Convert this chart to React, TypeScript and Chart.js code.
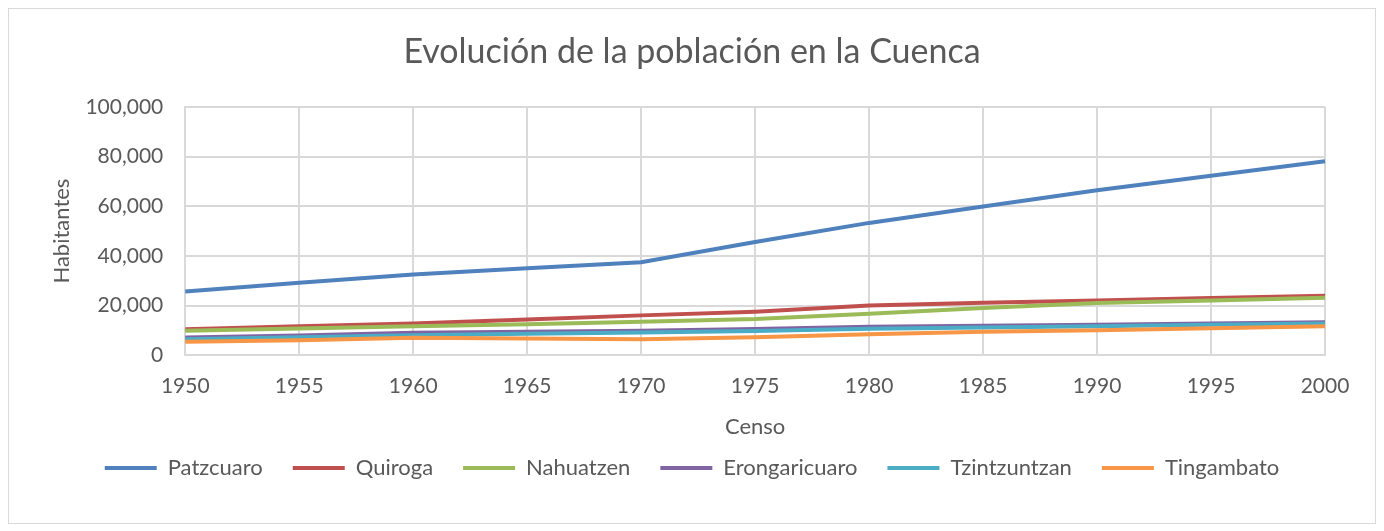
import React, { useEffect, useRef } from "react";
import { Chart, registerables } from "chart.js";

Chart.register(...registerables);

const years = ["1950", "1955", "1960", "1965", "1970", "1975", "1980", "1985", "1990", "1995", "2000"];
const patzcuaro = [25700, 29200, 32500, 35100, 37500, 45600, 53300, 59900, 66400, 72300, 78100];
const quiroga = [10500, 11700, 12800, 14400, 16100, 17600, 20100, 21200, 22100, 23100, 24000];
const nahuatzen = [9900, 10800, 11700, 12500, 13500, 14600, 16800, 19100, 21100, 22100, 23200];
const erongaricuaro = [7200, 8000, 9100, 9500, 9900, 10600, 11500, 11900, 12300, 12800, 13300];
const tzintzuntzan = [6500, 7300, 8100, 8700, 9200, 9800, 10700, 11200, 11700, 12300, 12800];
const tingambato = [5500, 6100, 7100, 6800, 6500, 7300, 8500, 9500, 10100, 10900, 11700];

const seriesNames = ["Patzcuaro", "Quiroga", "Nahuatzen", "Erongaricuaro", "Tzintzuntzan", "Tingambato"];
const seriesValues = [patzcuaro, quiroga, nahuatzen, erongaricuaro, tzintzuntzan, tingambato];
const seriesColors = ["#4F81BD", "#C0504D", "#9BBB59", "#8064A2", "#4BACC6", "#F79646"];

const FONT = "Lato, 'Open Sans', sans-serif";
const TEXT = "#595959";
const GRID = "#d9d9d9";

export default function App() {
  const ref = useRef<HTMLCanvasElement | null>(null);

  useEffect(() => {
    if (!ref.current) return;
    const chart = new Chart(ref.current, {
      type: "line",
      data: {
        labels: years,
        datasets: seriesNames.map((name, i) => ({
          label: name,
          data: seriesValues[i],
          borderColor: seriesColors[i],
          backgroundColor: seriesColors[i],
          borderWidth: 4,
          pointRadius: 0,
          pointHoverRadius: 0,
          tension: 0,
          fill: false,
          order: seriesNames.length - i,
        })),
      },
      options: {
        animation: false,
        responsive: false,
        maintainAspectRatio: false,
        layout: { padding: { left: 0, right: 0, top: 0, bottom: 34 } },
        plugins: {
          title: {
            display: true,
            text: "Evolución de la población en la Cuenca",
            color: TEXT,
            font: { family: FONT, size: 34, weight: "normal" },
            padding: { top: 23, bottom: 34 },
          },
          legend: {
            display: true,
            position: "bottom",
            labels: {
              color: TEXT,
              font: { family: FONT, size: 22 },
              boxWidth: 52,
              boxHeight: 4,
              padding: 30,
              sort: (a: any, b: any) => a.datasetIndex - b.datasetIndex,
              generateLabels: (c: any) =>
                Chart.defaults.plugins.legend.labels
                  .generateLabels(c)
                  .map((l: any) => ({ ...l, lineWidth: 0 })),
            },
          },
          tooltip: { enabled: false },
        },
        scales: {
          x: {
            type: "category",
            offset: false,
            grid: { color: GRID, lineWidth: 2, drawTicks: false },
            border: { color: GRID, width: 2 },
            ticks: { color: TEXT, font: { family: FONT, size: 21 }, padding: 18, maxRotation: 0, autoSkip: false },
            title: {
              display: true,
              text: "Censo",
              color: TEXT,
              font: { family: FONT, size: 22 },
              padding: { top: -3, bottom: -13 },
            },
          },
          y: {
            min: 0,
            max: 100000,
            grid: { color: GRID, lineWidth: 2, drawTicks: false },
            border: { color: GRID, width: 2 },
            ticks: { stepSize: 20000, color: TEXT, font: { family: FONT, size: 21 }, padding: 22 },
            title: {
              display: true,
              text: "Habitantes",
              color: TEXT,
              font: { family: FONT, size: 22 },
              padding: { top: 40, bottom: -12 },
            },
          },
          y2: {
            type: "linear",
            position: "right",
            display: true,
            grid: { display: false, drawOnChartArea: false },
            border: { display: false },
            ticks: { display: false },
            afterFit: (s: any) => {
              s.width = 50;
            },
          },
        },
      },
    });
    return () => chart.destroy();
  }, []);

  return (
    <div style={{ width: 1366, height: 514, border: "1px solid #d9d9d9", background: "#fff" }}>
      <canvas ref={ref} width={1366} height={514} style={{ display: "block" }} />
    </div>
  );
}
